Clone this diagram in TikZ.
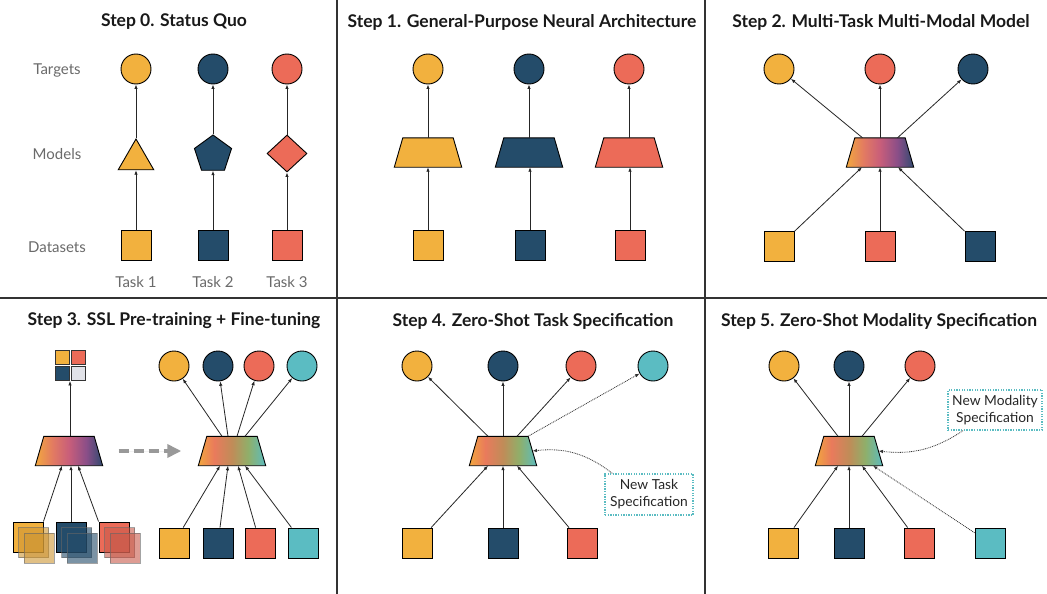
\documentclass[tikz,border=0pt]{standalone}
\usepackage{fontspec}
\setmainfont{Lato}
\usetikzlibrary{arrows.meta,shapes.geometric}
\definecolor{cor}{HTML}{F2B13E}
\definecolor{cdb}{HTML}{244C6A}
\definecolor{crd}{HTML}{EC6B58}
\definecolor{ctl}{HTML}{5BBCC2}
\definecolor{clg}{HTML}{E1E2E8}
\definecolor{lbl}{HTML}{6A6A6A}
\definecolor{gAa}{HTML}{F2A83E}
\definecolor{gAb}{HTML}{E27A62}
\definecolor{gAc}{HTML}{C85E7A}
\definecolor{gAd}{HTML}{8A4E88}
\definecolor{gAe}{HTML}{2F4A6F}
\definecolor{gBa}{HTML}{F2A63E}
\definecolor{gBb}{HTML}{E97A5C}
\definecolor{gBc}{HTML}{C08C58}
\definecolor{gBd}{HTML}{8FAF6A}
\definecolor{gBe}{HTML}{5BBCC0}
\pgfdeclarehorizontalshading{gradA}{100bp}{color(0bp)=(gAa); color(25bp)=(gAa); color(38bp)=(gAb); color(50bp)=(gAc); color(63bp)=(gAd); color(75bp)=(gAe); color(100bp)=(gAe)}
\pgfdeclarehorizontalshading{gradB}{100bp}{color(0bp)=(gBa); color(25bp)=(gBa); color(37bp)=(gBb); color(50bp)=(gBc); color(62bp)=(gBd); color(75bp)=(gBe); color(100bp)=(gBe)}
\tikzset{
  ttl/.style={font=\fontsize{17.5}{20}\selectfont\bfseries, text=black!90},
  lab/.style={font=\fontsize{15}{18}\selectfont, text=lbl},
  circ/.style={circle, draw=black, line width=0.9pt, minimum size=30pt, inner sep=0pt},
  sq/.style={rectangle, draw=black, line width=0.9pt, minimum size=30pt, inner sep=0pt},
  smsq/.style={rectangle, draw=black!80, line width=0.8pt, minimum size=14pt, inner sep=0pt},
  ghost/.style={rectangle, draw=black!60, draw opacity=0.6, fill opacity=0.6, line width=0.8pt, minimum size=30pt, inner sep=0pt},
  tbox/.style={rectangle, draw=none, minimum width=67pt, minimum height=29pt, inner sep=0pt},
  arr/.style={-{Latex[length=4.5pt,width=3.5pt]}, line width=0.8pt, draw=black!85},
  dotarr/.style={-{Latex[length=4.5pt,width=3.5pt]}, line width=0.8pt, dash pattern=on 0.9pt off 0.9pt, draw=black!80},
  nbox/.style={rectangle, draw=ctl, line width=1.3pt, dash pattern=on 1.3pt off 1.3pt, fill=white, align=center, inner sep=0pt, font=\fontsize{13.8}{17}\selectfont, text=black!85},
  divider/.style={line width=1.1pt, draw=black!80}
}
\newcommand\trapz[3]{%
  \node[tbox] (#1) at (#2) {};
  \path[draw=black, line width=0.9pt, #3] (#1.south west) -- (#1.south east) -- ([xshift=-8.5pt]#1.north east) -- ([xshift=8.5pt]#1.north west) -- cycle;}
\begin{document}
\begin{tikzpicture}[x=1pt,y=-1pt]
\useasboundingbox[fill=white] (0,0) rectangle (1047,594);
% dividers
\draw[divider] (337,0) -- (337,594);
\draw[divider] (705,0) -- (705,594);
\draw[divider] (0,298) -- (1047,298);

% ---------- Step 0
\node[ttl] (T0) at (174,22) {Step 0. Status Quo};
\node[lab] (lt) at (57,70) {Targets};
\node[lab] (lm) at (57,154) {Models};
\node[lab] (ld) at (57,247) {Datasets};
\node[lab] (k1) at (136,282) {Task 1};
\node[lab] (k2) at (213,282) {Task 2};
\node[lab] (k3) at (287,282) {Task 3};
\node[circ, fill=cor] (t01) at (136,69) {};
\node[circ, fill=cdb] (t02) at (213,69) {};
\node[circ, fill=crd] (t03) at (287,69) {};
\node[regular polygon, regular polygon sides=3, draw=black, line width=0.9pt, fill=cor, minimum size=41pt, inner sep=0pt] (m01) at (136,159.5) {};
\node[regular polygon, regular polygon sides=5, draw=black, line width=0.9pt, fill=cdb, minimum size=39pt, inner sep=0pt] (m02) at (213,154.5) {};
\node[diamond, draw=black, line width=0.9pt, fill=crd, minimum width=40pt, minimum height=37pt, inner sep=0pt] (m03) at (287,153.5) {};
\node[sq, fill=cor] (d01) at (136,245) {};
\node[sq, fill=cdb] (d02) at (213,245) {};
\node[sq, fill=crd] (d03) at (287,245) {};
\draw[arr] (d01) -- (m01.side 2 |- m01.south);
\draw[arr] (m01.corner 1) -- (t01);
\draw[arr] (d02) -- (m02);
\draw[arr] (m02) -- (t02);
\draw[arr] (d03) -- (m03);
\draw[arr] (m03) -- (t03);

% ---------- Step 1
\node[ttl] (T1) at (522,22) {Step 1. General-Purpose Neural Architecture};
\node[circ, fill=cor] (t11) at (428,69) {};
\node[circ, fill=cdb] (t12) at (529,69) {};
\node[circ, fill=crd] (t13) at (629,69) {};
\trapz{m11}{428,152.5}{fill=cor}
\trapz{m12}{529,152.5}{fill=cdb}
\trapz{m13}{629,152.5}{fill=crd}
\node[sq, fill=cor] (d11) at (428,245) {};
\node[sq, fill=cdb] (d12) at (530,245) {};
\node[sq, fill=crd] (d13) at (630,245) {};
\draw[arr] (d11) -- (m11.south);
\draw[arr] (m11.north) -- (t11);
\draw[arr] (d12) -- (d12 |- m12.south);
\draw[arr] (m12.north) -- (t12);
\draw[arr] (d13) -- (d13 |- m13.south);
\draw[arr] (m13.north) -- (t13);

% ---------- Step 2
\node[ttl] (T2) at (881,22) {Step 2. Multi-Task Multi-Modal Model};
\node[circ, fill=cor] (t21) at (779,69) {};
\node[circ, fill=crd] (t22) at (880,69) {};
\node[circ, fill=cdb] (t23) at (973,69) {};
\trapz{m2}{880,152.5}{shade, shading=gradA}
\node[sq, fill=cor] (d21) at (779,246) {};
\node[sq, fill=crd] (d22) at (880,246) {};
\node[sq, fill=cdb] (d23) at (980,246) {};
\draw[arr] (d21) -- ([xshift=-18pt]m2.south);
\draw[arr] (d22) -- (m2.south);
\draw[arr] (d23) -- ([xshift=18pt]m2.south);
\draw[arr] ([xshift=-17.5pt]m2.north) -- (t21);
\draw[arr] (m2.north) -- (t22);
\draw[arr] ([xshift=17.5pt]m2.north) -- (t23);

% ---------- Step 3
\node[ttl] (T3) at (174,321) {Step 3. SSL Pre-training + Fine-tuning};
\node[smsq, fill=cor] (g1) at (62,357) {};
\node[smsq, fill=crd] (g2) at (78.5,357) {};
\node[smsq, fill=cdb] (g3) at (62,373.5) {};
\node[smsq, fill=clg] (g4) at (78.5,373.5) {};
\trapz{m3a}{69,451}{shade, shading=gradA}
\draw[arr] ([xshift=1pt]m3a.north) -- ([xshift=1pt]m3a.north |- g3.south);
% stacks
\node[sq, fill=cor] (s31) at (28,537) {};
\node[ghost, fill=cor!85!black] (s31b) at (33.5,542.5) {};
\node[ghost, fill=cor!85!black] (s31c) at (39,548) {};
\node[sq, fill=cdb] (s32) at (71,537) {};
\node[ghost, fill=cdb] (s32b) at (76.5,542.5) {};
\node[ghost, fill=cdb] (s32c) at (82,548) {};
\node[sq, fill=crd] (s33) at (114,537) {};
\node[ghost, fill=crd!85!black] (s33b) at (119.5,542.5) {};
\node[ghost, fill=crd!85!black] (s33c) at (125,548) {};
\draw[arr] (s31.north east) -- ([xshift=-7pt]m3a.south);
\draw[arr] (s32.north) -- (s32.north |- m3a.south);
\draw[arr] (s33.north west) -- ([xshift=9pt]m3a.south);
% right part
\trapz{m3b}{232,451}{shade, shading=gradB}
\draw[-{Triangle[length=14pt,width=13pt]}, line width=3.8pt, draw=black!40, fill=black!40, dash pattern=on 10pt off 5pt] ([xshift=16pt]m3a.east) -- ([xshift=-17pt]m3b.west);
\node[circ, fill=cor] (t31) at (174,366) {};
\node[circ, fill=cdb] (t32) at (218,366) {};
\node[circ, fill=crd] (t33) at (259,366) {};
\node[circ, fill=ctl] (t34) at (302,366) {};
\node[sq, fill=cor] (d31) at (174,543) {};
\node[sq, fill=cdb] (d32) at (218,543) {};
\node[sq, fill=crd] (d33) at (260,543) {};
\node[sq, fill=ctl] (d34) at (303,543) {};
\draw[arr] ([xshift=-10pt]m3b.north) -- (t31);
\draw[arr] ([xshift=-4pt]m3b.north) -- (t32);
\draw[arr] ([xshift=5pt]m3b.north) -- (t33);
\draw[arr] ([xshift=13pt]m3b.north) -- (t34);
\draw[arr] (d31) -- ([xshift=-12pt]m3b.south);
\draw[arr] (d32) -- ([xshift=-4pt]m3b.south);
\draw[arr] (d33) -- ([xshift=6pt]m3b.south);
\draw[arr] (d34) -- ([xshift=13pt]m3b.south);

% ---------- Step 4
\node[ttl] (T4) at (533,321) {Step 4. Zero-Shot Task Specification};
\node[circ, fill=cor] (t41) at (417,366) {};
\node[circ, fill=cdb] (t42) at (503,366) {};
\node[circ, fill=crd] (t43) at (581,366) {};
\node[circ, fill=ctl] (t44) at (653,366) {};
\trapz{m4}{503,451}{shade, shading=gradB}
\node[sq, fill=cor] (d41) at (417,543) {};
\node[sq, fill=cdb] (d42) at (503,543) {};
\node[sq, fill=crd] (d43) at (582,543) {};
\draw[arr] ([xshift=-15pt]m4.north) -- (t41);
\draw[arr] (m4.north) -- (t42);
\draw[arr] ([xshift=14pt]m4.north) -- (t43);
\draw[dotarr] ([xshift=25pt]m4.north) -- (t44);
\draw[arr] (d41) -- ([xshift=-15pt]m4.south);
\draw[arr] (d42) -- (m4.south);
\draw[arr] (d43) -- ([xshift=14pt]m4.south);
\node[nbox, minimum width=88pt, minimum height=41pt] (nb4) at (649,494.5) {New Task\\Specification};
\draw[dotarr] ([xshift=8pt]nb4.north west) to[bend right=22] ([xshift=-4.25pt]m4.east);

% ---------- Step 5
\node[ttl] (T5) at (879,321) {Step 5. Zero-Shot Modality Specification};
\node[circ, fill=cor] (t51) at (784,366) {};
\node[circ, fill=cdb] (t52) at (849,366) {};
\node[circ, fill=crd] (t53) at (920,366) {};
\trapz{m5}{849,451}{shade, shading=gradB}
\node[sq, fill=cor] (d51) at (783,543) {};
\node[sq, fill=cdb] (d52) at (849,543) {};
\node[sq, fill=crd] (d53) at (919,543) {};
\node[sq, fill=ctl] (d54) at (990,543) {};
\draw[arr] ([xshift=-11pt]m5.north) -- (t51);
\draw[arr] (m5.north) -- (t52);
\draw[arr] ([xshift=13pt]m5.north) -- (t53);
\draw[arr] (d51) -- ([xshift=-11pt]m5.south);
\draw[arr] (d52) -- (m5.south);
\draw[arr] (d53) -- ([xshift=13pt]m5.south);
\draw[dotarr] (d54) -- ([xshift=24pt]m5.south);
\node[nbox, minimum width=94pt, minimum height=40pt] (nb5) at (995,410) {New Modality\\Specification};
\draw[dotarr] ([xshift=-32pt]nb5.south) to[bend left=20] ([xshift=-4.25pt]m5.east);
\end{tikzpicture}
\end{document}
